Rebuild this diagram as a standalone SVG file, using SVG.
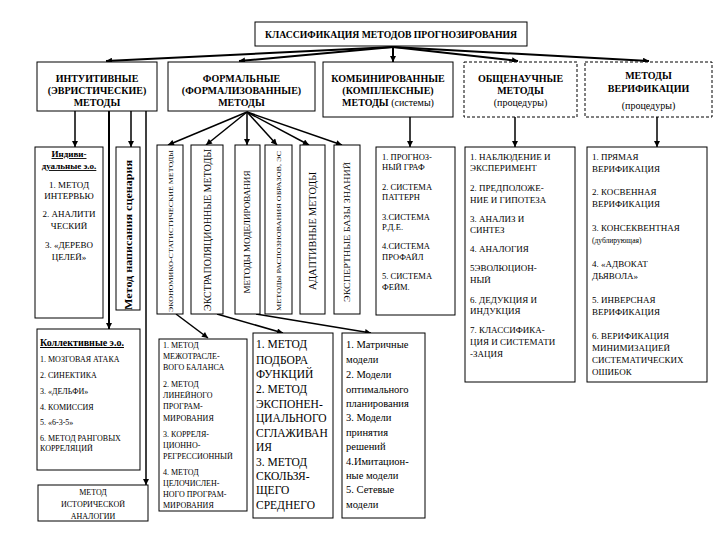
<svg xmlns="http://www.w3.org/2000/svg" width="720" height="540" viewBox="0 0 720 540" font-family="Liberation Serif, Times New Roman, DejaVu Serif, serif">
<defs>
<marker id="ah" viewBox="0 0 10 10" refX="10" refY="5" markerWidth="7" markerHeight="6" orient="auto" markerUnits="userSpaceOnUse"><path d="M0,0 L10,5 L0,10 z" fill="#000"/></marker>
<style>
text{font-family:'Liberation Serif','Times New Roman','DejaVu Serif',serif;fill:#000}
.bx{fill:#fff;stroke:#000;stroke-width:1}
.ds{fill:#fff;stroke:#000;stroke-width:1;stroke-dasharray:3,2}
.c{text-anchor:middle}
.b{font-weight:bold}
.u{text-decoration:underline}
.ln{fill:none;stroke:#000;stroke-width:1.5;marker-end:url(#ah)}
.lt{fill:none;stroke:#000;stroke-width:2;marker-end:url(#ah)}
</style>
</defs>
<rect width="720" height="540" fill="#fff"/>

<g id="connectors">
<path class="lt" d="M393,47 L106,61"/>
<path class="lt" d="M393,47 L239,61"/>
<path class="lt" d="M393,47 L393,62"/>
<path class="lt" d="M393,47 L518,61"/>
<path class="lt" d="M393,47 L649,61"/>
<path class="ln" d="M75,111 V147"/>
<path class="lt" d="M109,111 V329"/>
<path class="ln" d="M131,111 V147"/>
<path class="ln" d="M146,111 V485"/>
<path class="ln" d="M247,112 L168,145"/>
<path class="ln" d="M247,112 L206,145"/>
<path class="ln" d="M247,112 L247,145"/>
<path class="ln" d="M247,112 L277,145"/>
<path class="ln" d="M247,112 L309,145"/>
<path class="ln" d="M247,112 L342,145"/>
<path class="ln" d="M410,117 V147"/>
<path class="ln" d="M515,117 V147"/>
<path class="ln" d="M657,117 V147"/>
<path class="ln" d="M176,314 L208,338"/>
<path class="ln" d="M217,314 L283,333"/>
<path class="ln" d="M256,314 L371,333"/>
</g>

<g id="title">
<rect class="bx" x="255" y="22" width="272" height="24"/>
<text class="c b" x="391" y="38" font-size="9.5" textLength="252" lengthAdjust="spacingAndGlyphs">КЛАССИФИКАЦИЯ МЕТОДОВ ПРОГНОЗИРОВАНИЯ</text>
</g>

<g id="intuitive">
<rect class="bx" x="37" y="62" width="120" height="49"/>
<text class="c b" x="97" y="82" font-size="10">ИНТУИТИВНЫЕ</text>
<text class="c b" x="97" y="94" font-size="10">(ЭВРИСТИЧЕСКИЕ)</text>
<text class="c b" x="97" y="106" font-size="10">МЕТОДЫ</text>
</g>

<g id="formal">
<rect class="bx" x="168" y="62" width="147" height="49"/>
<text class="c b" x="241.5" y="82" font-size="10">ФОРМАЛЬНЫЕ</text>
<text class="c b" x="241.5" y="94" font-size="10">(ФОРМАЛИЗОВАННЫЕ)</text>
<text class="c b" x="241.5" y="106" font-size="10">МЕТОДЫ</text>
</g>

<g id="combined">
<rect class="bx" x="323" y="62" width="130" height="55"/>
<text class="c b" x="388" y="82" font-size="10">КОМБИНИРОВАННЫЕ</text>
<text class="c b" x="388" y="94" font-size="10">(КОМПЛЕКСНЫЕ)</text>
<text class="c" x="388" y="106" font-size="10"><tspan class="b">МЕТОДЫ</tspan> (системы)</text>
</g>

<g id="general">
<rect class="ds" x="464" y="62" width="113" height="55"/>
<text class="c b" x="520.5" y="82" font-size="10">ОБЩЕНАУЧНЫЕ</text>
<text class="c b" x="520.5" y="94" font-size="10">МЕТОДЫ</text>
<text class="c" x="520.5" y="106" font-size="10">(процедуры)</text>
</g>

<g id="verification">
<rect class="ds" x="585" y="62" width="127" height="55"/>
<text class="c b" x="648.5" y="79" font-size="10">МЕТОДЫ</text>
<text class="c b" x="648.5" y="92" font-size="10">ВЕРИФИКАЦИИ</text>
<text class="c" x="648.5" y="109" font-size="10">(процедуры)</text>
</g>

<g id="individual">
<rect class="bx" x="35" y="147" width="68" height="171"/>
<text class="c b u" x="69" y="157" font-size="9">Индиви-</text>
<text class="c b u" x="69" y="169" font-size="9">дуальные э.о.</text>
<text class="c" x="69" y="188" font-size="9">1. МЕТОД</text>
<text class="c" x="69" y="199" font-size="9">ИНТЕРВЬЮ</text>
<text class="c" x="69" y="217" font-size="9">2. АНАЛИТИ</text>
<text class="c" x="69" y="229" font-size="9">ЧЕСКИЙ</text>
<text class="c" x="69" y="248" font-size="9">3. «ДЕРЕВО</text>
<text class="c" x="69" y="260" font-size="9">ЦЕЛЕЙ»</text>
</g>

<g id="scenario">
<rect class="bx" x="116" y="147" width="24" height="163"/>
<text class="c b" transform="translate(131.5,235) rotate(-90)" font-size="10" textLength="150" lengthAdjust="spacingAndGlyphs">Метод написания сценария</text>
</g>

<g id="econstat">
<rect class="bx" x="157" y="145" width="26" height="169"/>
<text class="c" transform="translate(172.5,231) rotate(-90)" font-size="7" textLength="162" lengthAdjust="spacingAndGlyphs">ЭКОНОМИКО-СТАТИСТИЧЕСКИЕ МЕТОДЫ</text>
</g>

<g id="extrapolation">
<rect class="bx" x="191" y="145" width="32" height="169"/>
<text class="c" transform="translate(210.5,230) rotate(-90)" font-size="9.5" textLength="162" lengthAdjust="spacingAndGlyphs">ЭКСТРАПОЛЯЦИОННЫЕ МЕТОДЫ</text>
</g>

<g id="modeling">
<rect class="bx" x="235" y="145" width="25" height="169"/>
<text class="c" transform="translate(250,232) rotate(-90)" font-size="7.5" textLength="123" lengthAdjust="spacingAndGlyphs">МЕТОДЫ МОДЕЛИРОВАНИЯ</text>
</g>

<g id="recognition">
<rect class="bx" x="265" y="145" width="27" height="169"/>
<text class="c" transform="translate(280.5,231) rotate(-90)" font-size="6" textLength="160" lengthAdjust="spacingAndGlyphs">МЕТОДЫ РАСПОЗНОВАНИЯ ОБРАЗОВ, ЭС</text>
</g>

<g id="adaptive">
<rect class="bx" x="300" y="145" width="25" height="169"/>
<text class="c" transform="translate(315.5,231) rotate(-90)" font-size="9.5" textLength="118" lengthAdjust="spacingAndGlyphs">АДАПТИВНЫЕ МЕТОДЫ</text>
</g>

<g id="expert">
<rect class="bx" x="334" y="145" width="26" height="169"/>
<text class="c" transform="translate(350,232) rotate(-90)" font-size="9" textLength="140" lengthAdjust="spacingAndGlyphs">ЭКСПЕРТНЫЕ БАЗЫ ЗНАНИЙ</text>
</g>

<g id="combinedlist">
<rect class="bx" x="376" y="147" width="79" height="168"/>
<g font-size="8.5">
<text x="382" y="160">1. ПРОГНОЗ-</text>
<text x="382" y="170">НЫЙ ГРАФ</text>
<text x="382" y="190">2. СИСТЕМА</text>
<text x="382" y="200">ПАТТЕРН</text>
<text x="382" y="220">3.СИСТЕМА</text>
<text x="382" y="230">Р.Д.Е.</text>
<text x="382" y="249">4.СИСТЕМА</text>
<text x="382" y="260">ПРОФАЙЛ</text>
<text x="382" y="279">5. СИСТЕМА</text>
<text x="382" y="290">ФЕЙМ.</text>
</g>
</g>

<g id="generallist">
<rect class="bx" x="465" y="147" width="110" height="235"/>
<g font-size="9">
<text x="470" y="160">1. НАБЛЮДЕНИЕ И</text>
<text x="470" y="171">ЭКСПЕРИМЕНТ</text>
<text x="470" y="191">2. ПРЕДПОЛОЖЕ-</text>
<text x="470" y="203">НИЕ И ГИПОТЕЗА</text>
<text x="470" y="222">3. АНАЛИЗ И</text>
<text x="470" y="233">СИНТЕЗ</text>
<text x="470" y="252">4. АНАЛОГИЯ</text>
<text x="470" y="271">5ЭВОЛЮЦИОН-</text>
<text x="470" y="283">НЫЙ</text>
<text x="470" y="303">6. ДЕДУКЦИЯ И</text>
<text x="470" y="314">ИНДУКЦИЯ</text>
<text x="470" y="333">7. КЛАССИФИКА-</text>
<text x="470" y="345">ЦИЯ И СИСТЕМАТИ</text>
<text x="470" y="357">-ЗАЦИЯ</text>
</g>
</g>

<g id="verificationlist">
<rect class="bx" x="587" y="147" width="120" height="235"/>
<g font-size="9">
<text x="592" y="160">1. ПРЯМАЯ</text>
<text x="592" y="172">ВЕРИФИКАЦИЯ</text>
<text x="592" y="195">2. КОСВЕННАЯ</text>
<text x="592" y="207">ВЕРИФИКАЦИЯ</text>
<text x="592" y="231">3. КОНСЕКВЕНТНАЯ</text>
<text x="592" y="243" font-size="7.5">(дублирующая)</text>
<text x="592" y="267">4. «АДВОКАТ</text>
<text x="592" y="279">ДЬЯВОЛА»</text>
<text x="592" y="303">5. ИНВЕРСНАЯ</text>
<text x="592" y="315">ВЕРИФИКАЦИЯ</text>
<text x="592" y="339">6. ВЕРИФИКАЦИЯ</text>
<text x="592" y="351">МИНИМИЗАЦИЕЙ</text>
<text x="592" y="363">СИСТЕМАТИЧЕСКИХ</text>
<text x="592" y="375">ОШИБОК</text>
</g>
</g>

<g id="collective">
<rect class="bx" x="37" y="329" width="103" height="141"/>
<text class="b u" x="40" y="346" font-size="10">Коллективные э.о.</text>
<g font-size="8">
<text x="40" y="362">1. МОЗГОВАЯ АТАКА</text>
<text x="40" y="378">2. СИНЕКТИКА</text>
<text x="40" y="394">3.  «ДЕЛЬФИ»</text>
<text x="40" y="410">4. КОМИССИЯ</text>
<text x="40" y="425">5. «6-3-5»</text>
<text x="40" y="441">6.  МЕТОД  РАНГОВЫХ</text>
<text x="40" y="451">КОРРЕЛЯЦИЙ</text>
</g>
</g>

<g id="historical">
<rect class="bx" x="38" y="485" width="110" height="36"/>
<text class="c" x="93" y="495" font-size="8">МЕТОД</text>
<text class="c" x="93" y="507" font-size="8">ИСТОРИЧЕСКОЙ</text>
<text class="c" x="93" y="519" font-size="8">АНАЛОГИИ</text>
</g>

<g id="econlist">
<rect class="bx" x="159" y="339" width="88" height="172"/>
<g font-size="8">
<text x="163" y="348">1. МЕТОД</text>
<text x="163" y="359">МЕЖОТРАСЛЕ-</text>
<text x="163" y="370">ВОГО БАЛАНСА</text>
<text x="163" y="387">2.  МЕТОД</text>
<text x="163" y="398">ЛИНЕЙНОГО</text>
<text x="163" y="409">ПРОГРАМ-</text>
<text x="163" y="421">МИРОВАНИЯ</text>
<text x="163" y="437">3. КОРРЕЛЯ-</text>
<text x="163" y="448">ЦИОННО-</text>
<text x="163" y="459">РЕГРЕССИОННЫЙ</text>
<text x="163" y="475">4. МЕТОД</text>
<text x="163" y="486">ЦЕЛОЧИСЛЕН-</text>
<text x="163" y="497">НОГО ПРОГРАМ-</text>
<text x="163" y="508">МИРОВАНИЯ</text>
</g>
</g>

<g id="extraplist">
<rect class="bx" x="253" y="333" width="80" height="185"/>
<g font-size="11.5">
<text x="256" y="348">1. МЕТОД</text>
<text x="256" y="364">ПОДБОРА</text>
<text x="256" y="378">ФУНКЦИЙ</text>
<text x="256" y="393">2. МЕТОД</text>
<text x="256" y="408">ЭКСПОНЕН-</text>
<text x="256" y="422">ЦИАЛЬНОГО</text>
<text x="256" y="437">СГЛАЖИВАН</text>
<text x="256" y="451">ИЯ</text>
<text x="256" y="466">3. МЕТОД</text>
<text x="256" y="480">СКОЛЬЗЯ-</text>
<text x="256" y="494">ЩЕГО</text>
<text x="256" y="509">СРЕДНЕГО</text>
</g>
</g>

<g id="modellist">
<rect class="bx" x="342" y="333" width="83" height="185"/>
<g font-size="10.5">
<text x="346" y="348">1. Матричные</text>
<text x="346" y="363">модели</text>
<text x="346" y="378">2. Модели</text>
<text x="346" y="393">оптимального</text>
<text x="346" y="407">планирования</text>
<text x="346" y="421">3. Модели</text>
<text x="346" y="436">принятия</text>
<text x="346" y="450">решений</text>
<text x="346" y="465">4.Имитацион-</text>
<text x="346" y="479">ные модели</text>
<text x="346" y="493">5. Сетевые</text>
<text x="346" y="508">модели</text>
</g>
</g>
</svg>
